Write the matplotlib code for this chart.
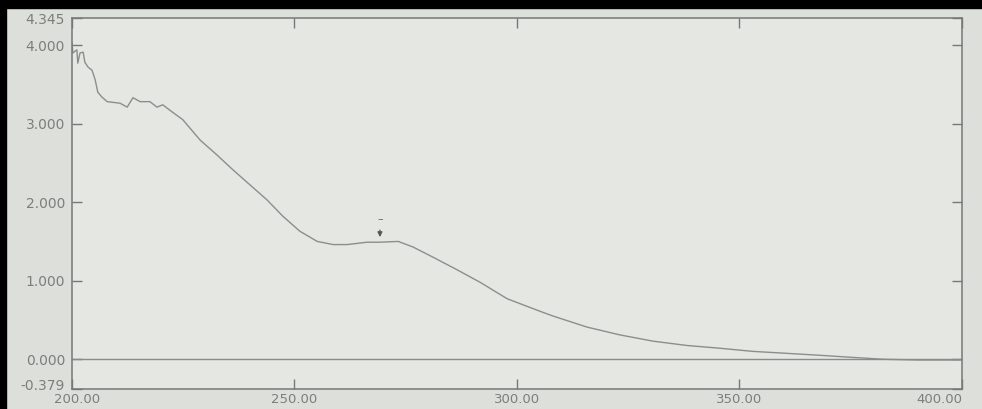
import matplotlib
matplotlib.use("Agg")
import matplotlib.pyplot as plt
from matplotlib.patches import Rectangle
from matplotlib.transforms import ScaledTranslation

# ---- data ----
wavelength = [200.0, 200.2, 201.1, 201.3, 201.8, 202.5, 202.9, 203.6, 204.5, 205.2,
              205.8, 206.7, 207.9, 210.8, 212.4, 213.7, 215.3, 217.5, 219.1, 220.4,
              222.0, 224.9, 228.8, 232.6, 236.2, 240.0, 243.8, 247.4, 251.2, 255.1,
              258.7, 261.8, 266.3, 269.2, 273.3, 276.6, 281.1, 286.5, 291.7, 297.8,
              305.2, 308.1, 315.7, 323.1, 330.6, 338.2, 345.6, 353.0, 360.7, 368.1,
              375.0, 382.2, 390.0, 399.6]
absorbance = [4.03, 3.90, 3.94, 3.77, 3.90, 3.91, 3.78, 3.72, 3.68, 3.56,
              3.40, 3.34, 3.28, 3.26, 3.21, 3.33, 3.28, 3.28, 3.21, 3.24,
              3.17, 3.05, 2.79, 2.60, 2.41, 2.22, 2.03, 1.82, 1.63, 1.50,
              1.46, 1.46, 1.49, 1.49, 1.50, 1.43, 1.30, 1.14, 0.98, 0.77,
              0.61, 0.55, 0.41, 0.31, 0.23, 0.175, 0.14, 0.10, 0.075, 0.05,
              0.025, 0.00, -0.01, -0.01]

x_ticks = [200, 250, 300, 350, 400]
x_tick_labels = ["200.00", "250.00", "300.00", "350.00", "400.00"]
y_ticks = [-0.379, 0.0, 1.0, 2.0, 3.0, 4.0, 4.345]
y_tick_labels = ["-0.379", "0.000", "1.000", "2.000", "3.000", "4.000", "4.345"]
x_min, x_max = 200, 400
y_min, y_max = -0.379, 4.345
baseline = 0.0
peak_nm, peak_abs = 269.2, 1.50

# ---- styling ----
bg = "#dde0da"
ax_bg = "#e4e7e2"
ink = "#767876"

fig = plt.figure(figsize=(9.82, 4.09), dpi=100, facecolor=bg)
ax = fig.add_axes([72 / 982, 1 - 389 / 409, (962 - 72) / 982, (389 - 18) / 409])
ax.set_facecolor(ax_bg)

ax.plot(wavelength, absorbance, color="#8c8e8c", lw=1.0)
ax.axhline(baseline, color="#8a8c8a", lw=1.0)

ax.set_xlim(x_min, x_max)
ax.set_ylim(y_min, y_max)
ax.set_xticks(x_ticks)
ax.set_xticklabels(x_tick_labels)
ax.set_yticks(y_ticks)
ax.set_yticklabels(y_tick_labels)

ax.tick_params(axis="both", direction="in", length=7, width=1, color=ink,
               labelcolor="#7c7e7c", labelsize=10)
ax.tick_params(axis="x", top=True, pad=3, labelsize=9.5)
ax.tick_params(axis="y", right=True, pad=5)
for s in ax.spines.values():
    s.set_color(ink)
    s.set_linewidth(1.1)

# last x label sits at the right edge of the picture: anchor it to its right side
xl = ax.get_xticklabels()
xl[-1].set_horizontalalignment("right")
# first x label nudged right, lowest y label nudged up, so the two do not collide
xl[0].set_transform(xl[0].get_transform() + ScaledTranslation(5 / 100, 0, fig.dpi_scale_trans))
yl = ax.get_yticklabels()
yl[0].set_transform(yl[0].get_transform() + ScaledTranslation(0, 5 / 100, fig.dpi_scale_trans))
yl[-1].set_transform(yl[-1].get_transform() + ScaledTranslation(0, -1 / 100, fig.dpi_scale_trans))

# peak marker
ax.annotate("", xy=(peak_nm, peak_abs + 0.02), xytext=(peak_nm, peak_abs + 0.18),
            arrowprops=dict(arrowstyle="-|>", color="#555755", lw=0.9,
                            mutation_scale=7))
ax.text(peak_nm, peak_abs + 0.28, "\u2013", ha="center", va="center",
        fontsize=8, color="#666866")

# black frame edges of the scan
fig.patches.append(Rectangle((0, 1 - 8 / 409), 1, 8 / 409, transform=fig.transFigure,
                             color="black", zorder=10))
fig.patches.append(Rectangle((0, 0), 6 / 982, 1, transform=fig.transFigure,
                             color="black", zorder=10))

fig.savefig("out.png", dpi=100, facecolor=bg)
